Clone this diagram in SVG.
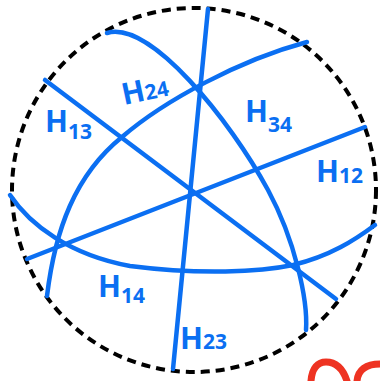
<svg xmlns="http://www.w3.org/2000/svg" width="380" height="381" viewBox="0 0 380 381">
<style>
.b{fill:none;stroke:#0b6ff2;stroke-width:4.5;stroke-linecap:round;stroke-linejoin:round}
.lbl{fill:#0b6ff2;font-family:"Noto Sans",sans-serif;font-weight:bold}
.h{font-size:30px}
.s{font-size:21px}
</style>
<rect width="380" height="381" fill="#fff"/>
<circle cx="194" cy="190" r="182" fill="none" stroke="#000" stroke-width="4" stroke-dasharray="9 6"/>
<g id="connectors">
<path class="b" d="M208,9 L173,369"/>
<path class="b" d="M45,80 L336,299"/>
<path class="b" d="M27,259 L365,127"/>
<path class="b" d="M10,195 C30,225 70,255 130,266 C200,275 260,272 293,265 C330,256 355,240 375,225"/>
<path class="b" d="M107,33 C150,20 230,120 268,190 C295,240 308,300 306,330"/>
<path class="b" d="M47,296 C55,230 75,175 122,137 C165,100 240,60 307,42"/>
</g>
<g id="H24"><text class="lbl" transform="translate(124,105) rotate(-12)"><tspan class="h">H</tspan><tspan class="s" dy="0">24</tspan></text></g>
<g id="H13"><text class="lbl" x="45" y="132"><tspan class="h">H</tspan><tspan class="s" dy="7">13</tspan></text></g>
<g id="H34"><text class="lbl" x="245" y="122"><tspan class="h">H</tspan><tspan class="s" dy="10">34</tspan></text></g>
<g id="H12"><text class="lbl" x="316" y="182"><tspan class="h">H</tspan><tspan class="s" dy="1">12</tspan></text></g>
<g id="H14"><text class="lbl" x="98" y="297"><tspan class="h">H</tspan><tspan class="s" dy="6">14</tspan></text></g>
<g id="H23"><text class="lbl" x="180" y="349"><tspan class="h">H</tspan><tspan class="s" dy="0">23</tspan></text></g>
<g id="squiggle">
<path d="M311,381 C312,368 318,362 326,362 C338,362 344,372 347,381 M357,381 C358,370 366,364 380,364" fill="none" stroke="#ee3322" stroke-width="7" stroke-linecap="round"/>
</g>
</svg>
